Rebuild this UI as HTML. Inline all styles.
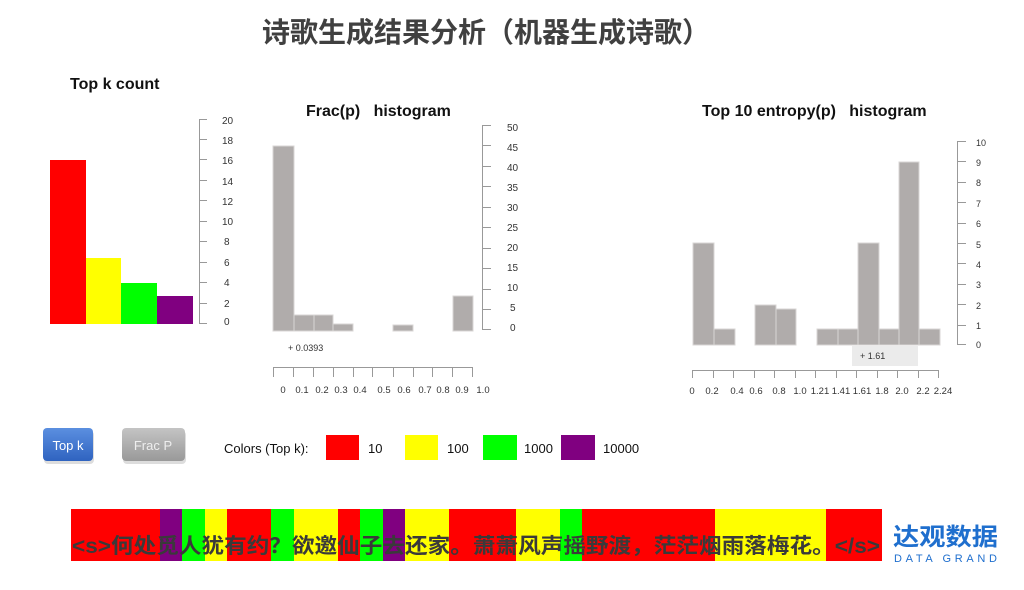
<!DOCTYPE html>
<html><head><meta charset="utf-8"><style>
html,body{margin:0;padding:0;background:#fff;}
svg{display:block}
text{font-family:"Liberation Sans","Noto Sans CJK SC",sans-serif;}
</style></head><body>
<svg width="1024" height="590" viewBox="0 0 1024 590" xmlns="http://www.w3.org/2000/svg">
<defs>
<linearGradient id="gb" x1="0" y1="0" x2="0" y2="1"><stop offset="0" stop-color="#5b8fe0"/><stop offset="1" stop-color="#2f63c0"/></linearGradient>
<linearGradient id="gg" x1="0" y1="0" x2="0" y2="1"><stop offset="0" stop-color="#c4c4c4"/><stop offset="1" stop-color="#999"/></linearGradient>
</defs>
<text x="486" y="42" text-anchor="middle" font-size="28" font-weight="bold" fill="#404040" font-family="'Liberation Sans','Noto Sans CJK SC',sans-serif">诗歌生成结果分析（机器生成诗歌）</text>
<text x="70" y="89" font-size="16" font-weight="bold" fill="#111">Top k count</text>
<text x="306" y="116" font-size="16" font-weight="bold" fill="#111" xml:space="preserve">Frac(p)   histogram</text>
<text x="702" y="116" font-size="16" font-weight="bold" fill="#111" xml:space="preserve">Top 10 entropy(p)   histogram</text>

<!-- Top k -->
<rect x="50" y="160" width="36" height="164" fill="#ff0000"/>
<rect x="86" y="258" width="35" height="66" fill="#ffff00"/>
<rect x="121" y="283" width="36" height="41" fill="#00ff00"/>
<rect x="157" y="296" width="36" height="28" fill="#800080"/>
<g stroke="#999" stroke-width="1" fill="none">
<line x1="199.5" y1="119" x2="199.5" y2="324"/>
<line x1="199" y1="119.5" x2="207" y2="119.5"/><line x1="199" y1="139.5" x2="207" y2="139.5"/><line x1="199" y1="159.5" x2="207" y2="159.5"/><line x1="199" y1="180.5" x2="207" y2="180.5"/><line x1="199" y1="200.5" x2="207" y2="200.5"/><line x1="199" y1="221.5" x2="207" y2="221.5"/><line x1="199" y1="241.5" x2="207" y2="241.5"/><line x1="199" y1="262.5" x2="207" y2="262.5"/><line x1="199" y1="282.5" x2="207" y2="282.5"/><line x1="199" y1="303.5" x2="207" y2="303.5"/><line x1="199" y1="323.5" x2="207" y2="323.5"/>
</g>
<g font-size="10" fill="#333">
<text x="222" y="124">20</text><text x="222" y="144">18</text><text x="222" y="164">16</text><text x="222" y="185">14</text><text x="222" y="205">12</text><text x="222" y="225">10</text><text x="224" y="245">8</text><text x="224" y="266">6</text><text x="224" y="286">4</text><text x="224" y="307">2</text><text x="224" y="325">0</text>
</g>

<!-- Frac -->
<g fill="#b0acab" stroke="#d8d6d5" stroke-width="1">
<rect x="273" y="146" width="21" height="185"/>
<rect x="294" y="315" width="20" height="16"/>
<rect x="314" y="315" width="19" height="16"/>
<rect x="333" y="324" width="20" height="7"/>
<rect x="393" y="325" width="20" height="6"/>
<rect x="453" y="296" width="20" height="35"/>
</g>
<g stroke="#999" fill="none">
<line x1="482.5" y1="125" x2="482.5" y2="330"/>
<line x1="482" y1="125.5" x2="491" y2="125.5"/><line x1="482" y1="145.5" x2="491" y2="145.5"/><line x1="482" y1="166.5" x2="491" y2="166.5"/><line x1="482" y1="186.5" x2="491" y2="186.5"/><line x1="482" y1="207.5" x2="491" y2="207.5"/><line x1="482" y1="227.5" x2="491" y2="227.5"/><line x1="482" y1="248.5" x2="491" y2="248.5"/><line x1="482" y1="268.5" x2="491" y2="268.5"/><line x1="482" y1="289.5" x2="491" y2="289.5"/><line x1="482" y1="309.5" x2="491" y2="309.5"/><line x1="482" y1="329.5" x2="491" y2="329.5"/>
<line x1="273" y1="367.5" x2="472" y2="367.5"/>
<line x1="273.5" y1="367" x2="273.5" y2="377"/><line x1="293.5" y1="367" x2="293.5" y2="377"/><line x1="313.5" y1="367" x2="313.5" y2="377"/><line x1="333.5" y1="367" x2="333.5" y2="377"/><line x1="353.5" y1="367" x2="353.5" y2="377"/><line x1="372.5" y1="367" x2="372.5" y2="377"/><line x1="393.5" y1="367" x2="393.5" y2="377"/><line x1="413.5" y1="367" x2="413.5" y2="377"/><line x1="432.5" y1="367" x2="432.5" y2="377"/><line x1="452.5" y1="367" x2="452.5" y2="377"/><line x1="472.5" y1="367" x2="472.5" y2="377"/>
</g>
<g font-size="10" fill="#333">
<text x="507" y="131">50</text><text x="507" y="151">45</text><text x="507" y="171">40</text><text x="507" y="191">35</text><text x="507" y="211">30</text><text x="507" y="231">25</text><text x="507" y="251">20</text><text x="507" y="271">15</text><text x="507" y="291">10</text><text x="510" y="311">5</text><text x="510" y="331">0</text>
<text x="288" y="351" font-size="9">+ 0.0393</text>
</g>
<g font-size="9.5" fill="#333" text-anchor="middle">
<text x="283" y="393">0</text><text x="302" y="393">0.1</text><text x="322" y="393">0.2</text><text x="341" y="393">0.3</text><text x="360" y="393">0.4</text><text x="384" y="393">0.5</text><text x="404" y="393">0.6</text><text x="425" y="393">0.7</text><text x="443" y="393">0.8</text><text x="462" y="393">0.9</text><text x="483" y="393">1.0</text>
</g>

<!-- Entropy -->
<rect x="852" y="346" width="66" height="20" fill="#ebebeb"/>
<g fill="#b0acab" stroke="#d8d6d5" stroke-width="1">
<rect x="693" y="243" width="21" height="102"/>
<rect x="714" y="329" width="21" height="16"/>
<rect x="755" y="305" width="21" height="40"/>
<rect x="776" y="309" width="20" height="36"/>
<rect x="817" y="329" width="21" height="16"/>
<rect x="838" y="329" width="20" height="16"/>
<rect x="858" y="243" width="21" height="102"/>
<rect x="879" y="329" width="20" height="16"/>
<rect x="899" y="162" width="20" height="183"/>
<rect x="919" y="329" width="21" height="16"/>
</g>
<g stroke="#999" fill="none">
<line x1="957.5" y1="141" x2="957.5" y2="345"/>
<line x1="957" y1="141.5" x2="966" y2="141.5"/><line x1="957" y1="161.5" x2="966" y2="161.5"/><line x1="957" y1="182.5" x2="966" y2="182.5"/><line x1="957" y1="202.5" x2="966" y2="202.5"/><line x1="957" y1="223.5" x2="966" y2="223.5"/><line x1="957" y1="243.5" x2="966" y2="243.5"/><line x1="957" y1="263.5" x2="966" y2="263.5"/><line x1="957" y1="284.5" x2="966" y2="284.5"/><line x1="957" y1="304.5" x2="966" y2="304.5"/><line x1="957" y1="325.5" x2="966" y2="325.5"/><line x1="957" y1="344.5" x2="966" y2="344.5"/>
<line x1="692" y1="370.5" x2="938" y2="370.5"/>
<line x1="692.5" y1="370" x2="692.5" y2="378"/><line x1="713.5" y1="370" x2="713.5" y2="378"/><line x1="733.5" y1="370" x2="733.5" y2="378"/><line x1="754.5" y1="370" x2="754.5" y2="378"/><line x1="774.5" y1="370" x2="774.5" y2="378"/><line x1="795.5" y1="370" x2="795.5" y2="378"/><line x1="815.5" y1="370" x2="815.5" y2="378"/><line x1="836.5" y1="370" x2="836.5" y2="378"/><line x1="856.5" y1="370" x2="856.5" y2="378"/><line x1="877.5" y1="370" x2="877.5" y2="378"/><line x1="897.5" y1="370" x2="897.5" y2="378"/><line x1="918.5" y1="370" x2="918.5" y2="378"/><line x1="938.5" y1="370" x2="938.5" y2="378"/>
</g>
<g font-size="9" fill="#333">
<text x="976" y="146">10</text><text x="976" y="166">9</text><text x="976" y="186">8</text><text x="976" y="207">7</text><text x="976" y="227">6</text><text x="976" y="248">5</text><text x="976" y="268">4</text><text x="976" y="288">3</text><text x="976" y="309">2</text><text x="976" y="329">1</text><text x="976" y="348">0</text>
<text x="860" y="359">+ 1.61</text>
</g>
<g font-size="9.5" fill="#333" text-anchor="middle">
<text x="692" y="394">0</text><text x="712" y="394">0.2</text><text x="737" y="394">0.4</text><text x="756" y="394">0.6</text><text x="779" y="394">0.8</text><text x="800" y="394">1.0</text><text x="820" y="394">1.21</text><text x="841" y="394">1.41</text><text x="862" y="394">1.61</text><text x="882" y="394">1.8</text><text x="902" y="394">2.0</text><text x="923" y="394">2.2</text><text x="943" y="394">2.24</text>
</g>

<!-- buttons -->
<rect x="43" y="429" width="50" height="33" rx="4" fill="#aaa" opacity="0.4" transform="translate(1,2)"/>
<rect x="43" y="428" width="50" height="33" rx="4" fill="url(#gb)"/>
<text x="68" y="450" font-size="13" fill="#fff" text-anchor="middle">Top k</text>
<rect x="122" y="429" width="63" height="33" rx="4" fill="#aaa" opacity="0.4" transform="translate(1,2)"/>
<rect x="122" y="428" width="63" height="33" rx="4" fill="url(#gg)"/>
<text x="153" y="450" font-size="13" fill="#eee" text-anchor="middle">Frac P</text>

<text x="224" y="453" font-size="13" fill="#111">Colors (Top k):</text>
<rect x="326" y="435" width="33" height="25" fill="#ff0000"/><text x="368" y="453" font-size="13" fill="#111">10</text>
<rect x="405" y="435" width="33" height="25" fill="#ffff00"/><text x="447" y="453" font-size="13" fill="#111">100</text>
<rect x="483" y="435" width="34" height="25" fill="#00ff00"/><text x="524" y="453" font-size="13" fill="#111">1000</text>
<rect x="561" y="435" width="34" height="25" fill="#800080"/><text x="603" y="453" font-size="13" fill="#111">10000</text>

<!-- strip -->
<rect x="71" y="509" width="90" height="52" fill="#ff0000"/>
<rect x="160" y="509" width="22" height="52" fill="#800080"/>
<rect x="182" y="509" width="23" height="52" fill="#00ff00"/>
<rect x="205" y="509" width="22" height="52" fill="#ffff00"/>
<rect x="227" y="509" width="45" height="52" fill="#ff0000"/>
<rect x="271" y="509" width="23" height="52" fill="#00ff00"/>
<rect x="294" y="509" width="45" height="52" fill="#ffff00"/>
<rect x="338" y="509" width="23" height="52" fill="#ff0000"/>
<rect x="360" y="509" width="23" height="52" fill="#00ff00"/>
<rect x="383" y="509" width="22" height="52" fill="#800080"/>
<rect x="405" y="509" width="45" height="52" fill="#ffff00"/>
<rect x="449" y="509" width="68" height="52" fill="#ff0000"/>
<rect x="516" y="509" width="45" height="52" fill="#ffff00"/>
<rect x="560" y="509" width="23" height="52" fill="#00ff00"/>
<rect x="582" y="509" width="134" height="52" fill="#ff0000"/>
<rect x="715" y="509" width="111" height="52" fill="#ffff00"/>
<rect x="826" y="509" width="56" height="52" fill="#ff0000"/>
<text x="72" y="553" font-size="21" font-weight="bold" fill="#3a3a3a" textLength="808" lengthAdjust="spacingAndGlyphs" font-family="'Liberation Sans','Noto Sans CJK SC',sans-serif">&lt;s&gt;何处觅人犹有约？欲邀仙子去还家。萧萧风声摇野渡，茫茫烟雨落梅花。&lt;/s&gt;</text>

<text x="893" y="545" font-size="24" font-weight="bold" fill="#1f6fce" textLength="105" lengthAdjust="spacingAndGlyphs" font-family="'Noto Sans CJK SC',sans-serif">达观数据</text>
<text x="894" y="562" font-size="11" fill="#1f6fce" textLength="103" lengthAdjust="spacing">DATA GRAND</text>
</svg>
</body></html>
